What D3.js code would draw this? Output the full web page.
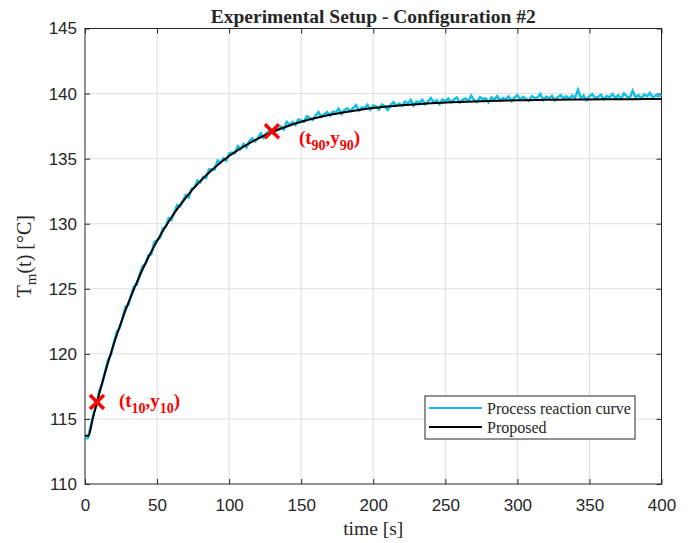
<!DOCTYPE html>
<html>
<head>
<meta charset="utf-8">
<script src="https://cdn.jsdelivr.net/npm/d3@7"></script>
<style>
  body { margin: 0; background: #fff; }
  svg text { fill: #262626; }
</style>
</head>
<body>
<div id="container"></div>
<script>
// measured process reaction curve, one value every 2 s from t = 0 to 400
var measuredStep = 2
var measured = [
  113.45,113.55,114.45,115.45,116.06,117.20,117.71,118.64,119.54,119.91,
  120.86,121.68,121.98,122.70,123.61,123.74,124.50,125.19,125.31,126.12,
  126.75,126.92,127.57,127.65,128.57,128.73,128.92,129.64,129.76,130.41,
  130.29,130.92,131.43,131.33,131.78,132.21,132.03,132.69,132.79,133.33,
  133.17,133.60,133.51,134.17,134.18,134.17,134.86,134.69,135.02,134.84,
  135.40,135.46,135.41,135.95,135.74,136.13,135.86,136.34,136.56,136.33,
  136.59,136.95,136.60,136.96,137.15,136.95,137.39,137.23,137.46,137.24,
  137.82,137.60,137.82,137.59,138.01,137.93,137.84,138.25,138.11,137.97,
  138.32,138.57,138.22,138.42,138.57,138.32,138.61,138.55,138.84,138.43,
  138.72,138.86,138.64,138.88,139.11,138.69,138.92,138.90,139.13,138.76,
  139.09,139.01,138.78,139.16,139.03,138.75,139.12,139.34,139.06,139.23,
  139.05,139.37,139.24,139.50,139.07,139.39,139.30,139.52,139.18,139.40,
  139.66,139.32,139.48,139.19,139.55,139.41,139.62,139.33,139.54,139.70,
  139.31,139.52,139.63,139.43,139.84,139.50,139.36,139.71,139.57,139.62,
  139.33,139.69,139.54,139.80,139.45,139.66,139.56,139.77,139.42,139.68,
  139.88,139.53,139.74,139.59,139.45,139.80,139.65,139.71,139.96,139.51,
  139.77,139.62,139.82,139.47,139.73,139.88,139.63,139.78,139.59,139.84,
  139.69,140.29,139.64,139.85,139.50,139.80,139.95,139.65,139.75,139.91,
  139.56,139.81,139.71,139.96,139.66,139.87,139.62,140.02,139.77,139.67,
  140.22,139.72,139.88,139.63,139.93,139.78,140.03,139.68,139.88,139.78,
  139.93
]
// proposed model curve
var proposedT = [0,2.5,5,10,15,20,25,30,40,50,60,70,80,90,100,110,120,130,140,150,160,170,180,190,200,220,240,260,280,300,320,340,360,380,400]
var proposedY = [113.7,113.7,114.85,117.0,118.97,120.76,122.39,123.89,126.5,128.68,130.5,132.01,133.27,134.32,135.2,135.93,136.54,137.05,137.47,137.83,138.12,138.37,138.57,138.74,138.89,139.1,139.26,139.36,139.43,139.48,139.52,139.54,139.56,139.57,139.58]
// t10 / t90 points
var markers = [
  { t: 8.3, y: 116.3, sub: "10" },
  { t: 129.7, y: 137.1, sub: "90" }
]
var xTicks = [0,50,100,150,200,250,300,350,400]
var yTicks = [110,115,120,125,130,135,140,145]
var legendItems = ["Process reaction curve", "Proposed"]
var colors = ["#14bfe6", "#000000"]

var width = 691, height = 543
var margin = { top: 28.5, right: 29.5, bottom: 59, left: 85 }

var svg = d3.select("#container").append("svg")
    .attr("width", width)
    .attr("height", height)

var x = d3.scaleLinear().domain([0, 400]).range([margin.left, width - margin.right])
var y = d3.scaleLinear().domain([110, 145]).range([height - margin.bottom, margin.top])

var serif = "'Liberation Serif', 'Times New Roman', serif"
var sans = "'Liberation Sans', Arial, Helvetica, sans-serif"

// grid
svg.append("g").selectAll("line").data(xTicks.slice(1, -1)).enter().append("line")
  .attr("x1", d => x(d)).attr("x2", d => x(d))
  .attr("y1", y(110)).attr("y2", y(145))
  .attr("stroke", "#dedede").attr("stroke-width", 1)
svg.append("g").selectAll("line").data(yTicks.slice(1, -1)).enter().append("line")
  .attr("y1", d => y(d)).attr("y2", d => y(d))
  .attr("x1", x(0)).attr("x2", x(400))
  .attr("stroke", "#dedede").attr("stroke-width", 1)

// axes (inward ticks, mirrored like matlab)
function styleAxis(g) {
  g.select(".domain").remove()
  g.selectAll(".tick line").attr("stroke", "#262626")
  g.selectAll(".tick text").attr("font-family", sans).attr("font-size", 17).attr("fill", "#262626")
}
svg.append("g").attr("transform", "translate(0," + y(110) + ")")
  .call(d3.axisBottom(x).tickValues(xTicks).tickSizeInner(-5).tickSizeOuter(0).tickPadding(15))
  .call(styleAxis)
svg.append("g").attr("transform", "translate(0," + y(145) + ")")
  .call(d3.axisTop(x).tickValues(xTicks).tickSizeInner(-5).tickSizeOuter(0).tickFormat(""))
  .call(styleAxis)
svg.append("g").attr("transform", "translate(" + x(0) + ",0)")
  .call(d3.axisLeft(y).tickValues(yTicks).tickSizeInner(-5).tickSizeOuter(0).tickPadding(8))
  .call(styleAxis)
svg.append("g").attr("transform", "translate(" + x(400) + ",0)")
  .call(d3.axisRight(y).tickValues(yTicks).tickSizeInner(-5).tickSizeOuter(0).tickFormat(""))
  .call(styleAxis)

// box
svg.append("rect")
  .attr("x", x(0)).attr("y", y(145))
  .attr("width", x(400) - x(0)).attr("height", y(110) - y(145))
  .attr("fill", "none").attr("stroke", "#262626").attr("stroke-width", 1)

// curves
var line = d3.line().x(d => x(d[0])).y(d => y(d[1]))
var measuredPts = measured.map((v, i) => [i * measuredStep, v])
var proposedPts = proposedT.map((t, i) => [t, proposedY[i]])

svg.append("path").datum(measuredPts)
  .attr("d", line)
  .attr("fill", "none").attr("stroke", colors[0]).attr("stroke-width", 2.5)
  .attr("stroke-linejoin", "miter")
svg.append("path").datum(proposedPts)
  .attr("d", line.curve(d3.curveMonotoneX))
  .attr("fill", "none").attr("stroke", colors[1]).attr("stroke-width", 2)

// markers
var labelOffsets = [[22, 5], [27, 13]]
var mk = svg.append("g").selectAll("g").data(markers).enter().append("g")
  .attr("transform", d => "translate(" + x(d.t) + "," + y(d.y) + ")")
mk.append("path")
  .attr("d", "M-7,-7L7,7M-7,7L7,-7")
  .attr("stroke", "#ff0000").attr("stroke-width", 3.5)

var lab = mk.append("text")
  .attr("x", (d, i) => labelOffsets[i][0]).attr("y", (d, i) => labelOffsets[i][1])
  .attr("font-family", serif).attr("font-weight", "bold").attr("font-size", 19)
  .style("fill", "#ff0000")
lab.append("tspan").text("(t")
lab.append("tspan").attr("dy", 6).attr("font-size", 14).text(d => d.sub)
lab.append("tspan").attr("dy", -6).text(",y")
lab.append("tspan").attr("dy", 6).attr("font-size", 14).text(d => d.sub)
lab.append("tspan").attr("dy", -6).text(")")

// title and labels
svg.append("text")
  .attr("x", (x(0) + x(400)) / 2).attr("y", 23)
  .attr("text-anchor", "middle")
  .attr("font-family", serif).attr("font-weight", "bold").attr("font-size", 19.5)
  .text("Experimental Setup - Configuration #2")

svg.append("text")
  .attr("x", (x(0) + x(400)) / 2).attr("y", 535)
  .attr("text-anchor", "middle")
  .attr("font-family", serif).attr("font-size", 19.5)
  .text("time [s]")

var yl = svg.append("text")
  .attr("transform", "translate(31," + ((y(110) + y(145)) / 2) + ") rotate(-90)")
  .attr("text-anchor", "middle")
  .attr("font-family", serif).attr("font-size", 20)
yl.append("tspan").text("T")
yl.append("tspan").attr("dy", 5).attr("font-size", 15).text("m")
yl.append("tspan").attr("dy", -5).text("(t) [°C]")

// legend
var lg = svg.append("g").attr("transform", "translate(425,396)")
lg.append("rect").attr("width", 210).attr("height", 43)
  .attr("fill", "#fff").attr("stroke", "#262626").attr("stroke-width", 1)
var li = lg.selectAll("g").data(legendItems).enter().append("g")
  .attr("transform", (d, i) => "translate(0," + (12 + i * 19) + ")")
li.append("line").attr("x1", 4).attr("x2", 57)
  .attr("stroke", (d, i) => colors[i]).attr("stroke-width", 2)
li.append("text").attr("x", 62).attr("y", 6)
  .attr("font-family", serif).attr("font-size", 16)
  .text(d => d)
</script>
</body>
</html>
